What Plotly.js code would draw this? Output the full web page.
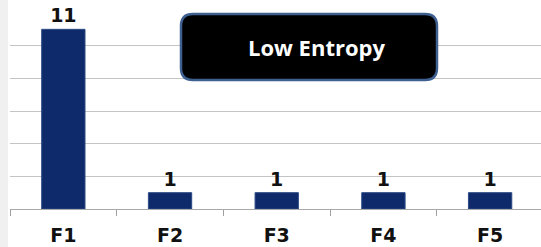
<!DOCTYPE html>
<html>
<head>
<meta charset="utf-8">
<script src="https://cdn.plot.ly/plotly-3.0.1.min.js"></script>
<style>html,body{margin:0;padding:0;background:#fff;}#chart{width:541px;height:247px;}</style>
</head>
<body>
<div id="chart"></div>
<script>
const categories = ["F1", "F2", "F3", "F4", "F5"];
const values = [11, 1, 1, 1, 1];
const labels = ["11", "1", "1", "1", "1"];
const boxText = "Low Entropy";

const W = 541, H = 247, ml = 10, mr = 0, mt = 13, mb = 38;
const pw = W - ml - mr, ph = H - mt - mb;
function px(x){ return (x - ml) / pw; }
function py(y){ return (H - mb - y) / ph; }
function roundRect(x0, y0, x1, y1, r){
  const rx = r / pw, ry = r / ph;
  const X0 = px(x0), X1 = px(x1), Y0 = py(y0), Y1 = py(y1);
  return `M ${X0+rx},${Y0} L ${X1-rx},${Y0} Q ${X1},${Y0} ${X1},${Y0-ry} L ${X1},${Y1+ry} Q ${X1},${Y1} ${X1-rx},${Y1} L ${X0+rx},${Y1} Q ${X0},${Y1} ${X0},${Y1+ry} L ${X0},${Y0-ry} Q ${X0},${Y0} ${X0+rx},${Y0} Z`;
}

const trace = {
  type: 'bar',
  x: categories,
  y: values,
  text: labels,
  textposition: 'outside',
  cliponaxis: false,
  textfont: {family: 'DejaVu Sans', size: 19, color: '#111', weight: 'bold'},
  marker: {color: '#0e2a6b', line: {color: '#2c4a85', width: 1}},
  hoverinfo: 'none'
};

const layout = {
  width: W, height: H,
  margin: {l: ml, r: mr, t: mt, b: mb, pad: 0},
  paper_bgcolor: '#fff', plot_bgcolor: '#fff',
  showlegend: false,
  bargap: 0.594,
  xaxis: {
    type: 'category',
    range: [-0.5, 4.477],
    tickson: 'boundaries',
    ticks: 'outside', ticklen: 6, tickcolor: '#a0a0a0', tickwidth: 1,
    showgrid: false,
    showline: true, linecolor: '#a8a8a8', linewidth: 1,
    tickfont: {family: 'DejaVu Sans', size: 19, color: '#111', weight: 'bold'},
    ticklabelstandoff: 9,
    fixedrange: true
  },
  yaxis: {
    range: [0, 12],
    dtick: 2,
    showticklabels: false,
    showgrid: true, gridcolor: '#c4c4c4', gridwidth: 1,
    zeroline: false,
    showline: false,
    ticks: '',
    fixedrange: true
  },
  shapes: [
    {type: 'rect', xref: 'paper', yref: 'paper', x0: px(0), x1: px(8), y0: py(247), y1: py(0), fillcolor: '#f0f0f0', line: {width: 0}, layer: 'below'},
    {type: 'path', xref: 'paper', yref: 'paper', path: roundRect(181, 14, 437, 80, 12), fillcolor: '#000', line: {color: '#3e6090', width: 2.5}, layer: 'above'}
  ],
  annotations: [
    {xref: 'paper', yref: 'paper', x: px(316), y: py(47), text: boxText, showarrow: false,
     font: {family: 'Open Sans', size: 22, color: '#fff', weight: 'bold'}, xanchor: 'center', yanchor: 'middle'}
  ]
};

Plotly.newPlot('chart', [trace], layout, {displayModeBar: false, staticPlot: true});
</script>
</body>
</html>
